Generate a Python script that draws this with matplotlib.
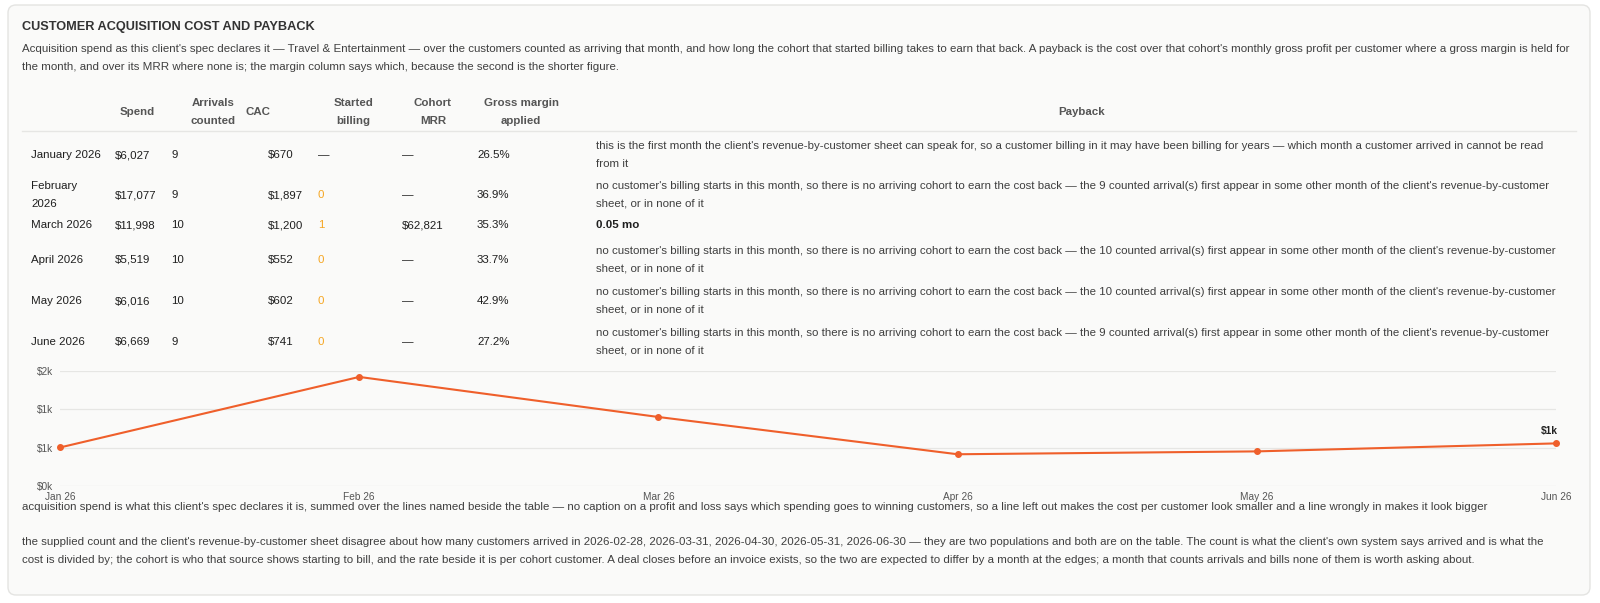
import matplotlib
matplotlib.use("Agg")
import matplotlib.pyplot as plt
from matplotlib.patches import FancyBboxPatch
from matplotlib.transforms import IdentityTransform
from matplotlib.ticker import FixedLocator, FuncFormatter

# ---- data ----
months = ["January 2026", "February\n2026", "March 2026", "April 2026", "May 2026", "June 2026"]
tick_labels = ["Jan 26", "Feb 26", "Mar 26", "Apr 26", "May 26", "Jun 26"]
spend = [6027, 17077, 11998, 5519, 6016, 6669]
arrivals = [9, 9, 10, 10, 10, 9]
cac = [670, 1897, 1200, 552, 602, 741]
started_billing = [None, 0, 1, 0, 0, 0]
cohort_mrr = [None, None, 62821, None, None, None]
gross_margin = [26.5, 36.9, 35.3, 33.7, 42.9, 27.2]
payback_months = [None, None, 0.05, None, None, None]

title = "CUSTOMER ACQUISITION COST AND PAYBACK"
intro = ("Acquisition spend as this client's spec declares it \u2014 Travel & Entertainment \u2014 over the customers "
         "counted as arriving that month, and how long the cohort that started billing takes to earn that back. "
         "A payback is the cost over that cohort's monthly gross profit per customer where a gross margin is held for\n"
         "the month, and over its MRR where none is; the margin column says which, because the second is the shorter figure.")
first_month_note = ("this is the first month the client's revenue-by-customer sheet can speak for, so a customer billing "
                    "in it may have been billing for years \u2014 which month a customer arrived in cannot be read\nfrom it")
no_cohort_note = ("no customer's billing starts in this month, so there is no arriving cohort to earn the cost back \u2014 "
                  "the {n} counted arrival(s) first appear in some other month of the client's revenue-by-customer\n"
                  "sheet, or in none of it")
foot1 = ("acquisition spend is what this client's spec declares it is, summed over the lines named beside the table \u2014 "
         "no caption on a profit and loss says which spending goes to winning customers, so a line left out makes the "
         "cost per customer look smaller and a line wrongly in makes it look bigger")
foot2 = ("the supplied count and the client's revenue-by-customer sheet disagree about how many customers arrived in "
         "2026-02-28, 2026-03-31, 2026-04-30, 2026-05-31, 2026-06-30 \u2014 they are two populations and both are on "
         "the table. The count is what the client's own system says arrived and is what the\n"
         "cost is divided by; the cohort is who that source shows starting to bill, and the rate beside it is per cohort "
         "customer. A deal closes before an invoice exists, so the two are expected to differ by a month at the edges; "
         "a month that counts arrivals and bills none of them is worth asking about.")

plt.rcParams['font.family'] = ['Liberation Sans', 'DejaVu Sans']

W, H = 1600, 603
fig = plt.figure(figsize=(W / 100, H / 100), dpi=100)
fig.patch.set_facecolor("white")

card = FancyBboxPatch((8, 8), 1582, 590, boxstyle="round,pad=0,rounding_size=8",
                      transform=IdentityTransform(), facecolor="#fafaf9",
                      edgecolor="#e4e4e2", linewidth=1, zorder=-10)
fig.add_artist(card)

TXT = "#3f3f3f"
DARK = "#1f1f1f"
HEAD = "#555555"
ORANGE = "#f5a623"
LINE = "#ef5f2b"
fs = 8.25
LS = 1.95


def T(x, y, s, **kw):
    kw.setdefault("va", "center")
    kw.setdefault("fontsize", fs)
    kw.setdefault("color", TXT)
    return fig.text(x / W, 1 - y / H, s, **kw)


T(22, 27, title, fontsize=9.2, fontweight="bold", color="#333333")
T(22, 58, intro, linespacing=LS)

# table header
head = [("Spend", 137), ("Arrivals\ncounted", 213), ("CAC", 258), ("Started\nbilling", 353),
        ("Cohort\nMRR", 433), ("Gross margin\napplied", 521), ("Payback", 1082)]
for s, x in head:
    T(x, 112, s, ha="center", color=HEAD, fontweight="bold", linespacing=LS)
fig.add_artist(plt.Line2D([22 / W, 1576 / W], [1 - 131 / H, 1 - 131 / H], color="#e6e6e4", lw=1))

row_y = [155, 195, 225, 260, 301, 342]
for i, y in enumerate(row_y):
    T(31, y, months[i], color=DARK, linespacing=LS)
    T(115, y, f"${spend[i]:,}", color=DARK)
    T(171, y, f"{arrivals[i]}", color=DARK)
    T(268, y, f"${cac[i]:,}", color=DARK)
    if started_billing[i] is None:
        T(318, y, "\u2014", color=DARK)
    else:
        T(318, y, f"{started_billing[i]}", color=ORANGE)
    T(402, y, "\u2014" if cohort_mrr[i] is None else f"${cohort_mrr[i]:,}", color=DARK)
    T(477, y, f"{gross_margin[i]:.1f}%", color=DARK)
    if i == 0:
        T(596, y, first_month_note, linespacing=LS)
    elif payback_months[i] is not None:
        T(596, y, f"{payback_months[i]:.2f} mo", color=DARK, fontweight="bold")
    else:
        T(596, y, no_cohort_note.format(n=arrivals[i]), linespacing=LS)

# CAC line chart
ax = fig.add_axes([60 / W, 1 - 486 / H, (1556 - 60) / W, (486 - 371) / H])
ax.set_facecolor("none")
xs = list(range(len(cac)))
ax.plot(xs, cac, color=LINE, lw=1.5, marker="o", ms=4, clip_on=False, zorder=3)
ax.set_xlim(0, len(cac) - 1)
ax.set_ylim(0, 2000)
ax.yaxis.set_major_locator(FixedLocator([0, 2000 / 3, 4000 / 3, 2000]))
ax.yaxis.set_major_formatter(FuncFormatter(lambda v, p: f"${v / 1000:.0f}k"))
ax.set_xticks(xs)
ax.set_xticklabels(tick_labels)
ax.tick_params(length=0, labelsize=7.3, labelcolor="#555555", pad=4)
ax.tick_params(axis="y", pad=5)
ax.grid(axis="y", color="#e6e6e4", lw=0.9)
ax.set_axisbelow(True)
for sp in ax.spines.values():
    sp.set_visible(False)
ax.annotate(f"${cac[-1] / 1000:.0f}k", (xs[-1], cac[-1]), xytext=(-5, 5), textcoords="offset points",
            ha="center", va="bottom", fontsize=7.3, fontweight="bold", color="#222222")

T(22, 507, foot1)
T(22, 551, foot2, linespacing=LS)

fig.savefig("out.png", dpi=100, facecolor="white")
